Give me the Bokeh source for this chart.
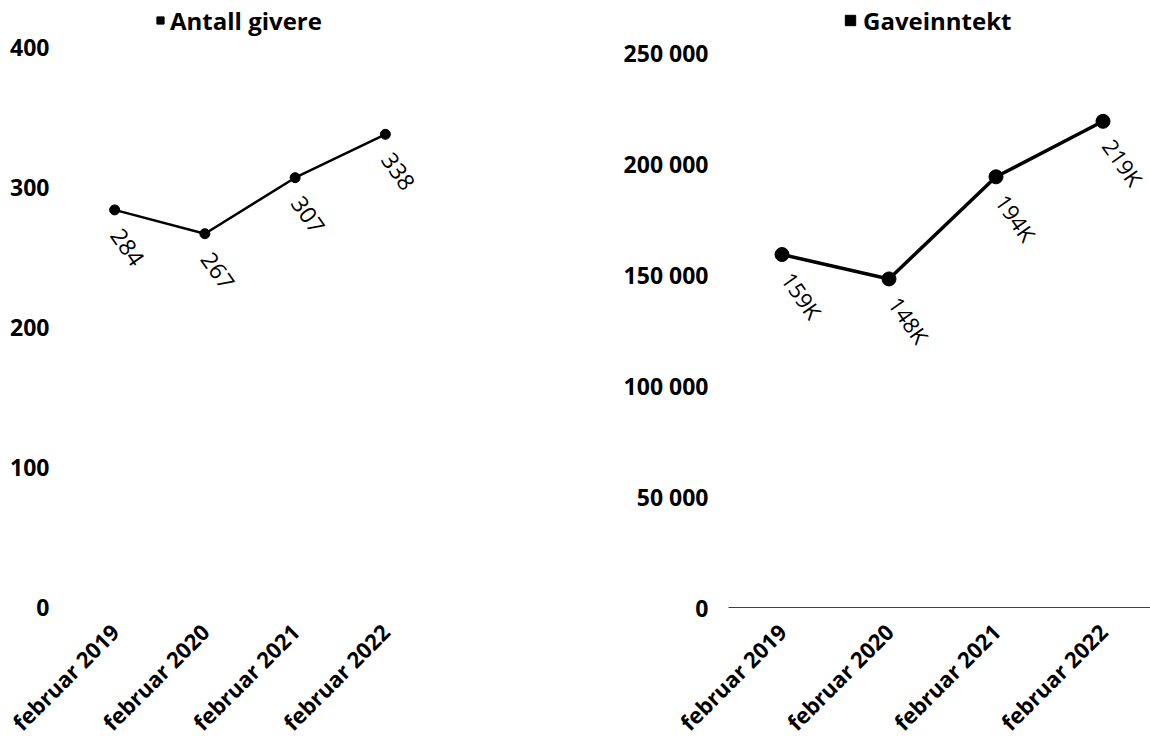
from bokeh.plotting import figure
from bokeh.layouts import row
from bokeh.models import Range1d, FixedTicker, Legend, LegendItem
from bokeh.core.properties import value
from bokeh.embed import file_html
from bokeh.resources import INLINE

# ---- data ----
categories = ["februar 2019", "februar 2020", "februar 2021", "februar 2022"]
givere = [284, 267, 307, 338]
gaveinntekt = [159000, 148000, 194000, 219000]
givere_ticks = [0, 100, 200, 300, 400]
inntekt_ticks = [0, 50000, 100000, 150000, 200000, 250000]
title_left = "Antall givere"
title_right = "Gaveinntekt"

FONT = "Open Sans"
xs = list(range(len(categories)))
FRAME_H = 607


def style(p, yticks, ylabels, x_line, y_standoff):
    p.xgrid.grid_line_color = None
    p.ygrid.grid_line_color = None
    p.outline_line_color = None
    p.xaxis.ticker = FixedTicker(ticks=xs)
    p.xaxis.major_label_overrides = {i: c for i, c in zip(xs, categories)}
    p.xaxis.major_label_orientation = 0.785398
    p.xaxis.major_label_standoff = 20
    p.xaxis.major_label_text_font_size = "22px"
    if x_line:
        p.xaxis.axis_line_color = "#404040"
        p.xaxis.axis_line_width = 1
    else:
        p.xaxis.axis_line_color = None
    p.yaxis.ticker = FixedTicker(ticks=yticks)
    p.yaxis.major_label_overrides = {t: l for t, l in zip(yticks, ylabels)}
    p.yaxis.axis_line_color = None
    p.yaxis.major_label_standoff = y_standoff
    p.yaxis.major_label_text_font_size = "23px"
    for ax in (p.xaxis, p.yaxis):
        ax.major_tick_line_color = None
        ax.minor_tick_line_color = None
        ax.major_tick_out = 0
        ax.major_tick_in = 0
        ax.minor_tick_out = 0
        ax.minor_tick_in = 0
        ax.major_label_text_font = FONT
        ax.major_label_text_font_style = "bold"
        ax.major_label_text_color = "black"


def add_legend(p, label, glyph_w, x_pos, standoff, hidden_y):
    r = p.scatter(x=[-10], y=[hidden_y], marker="square", color="black")
    leg = Legend(items=[LegendItem(label=label, renderers=[r])],
                 location=(x_pos, FRAME_H - 40), orientation="horizontal",
                 label_text_font=FONT, label_text_font_style="bold",
                 label_text_font_size="24px", label_text_color="black",
                 glyph_width=glyph_w, glyph_height=40, label_height=40,
                 label_standoff=standoff,
                 padding=0, margin=0, spacing=0,
                 border_line_color=None, background_fill_alpha=0)
    p.add_layout(leg)


# ---- left chart ----
p1 = figure(frame_width=361, frame_height=FRAME_H, min_border_left=69,
            min_border_right=138, min_border_top=0, min_border_bottom=0,
            x_range=Range1d(-0.5, 3.5), y_range=Range1d(0, FRAME_H / 1.4),
            toolbar_location=None, output_backend="svg")
style(p1, givere_ticks, [str(t) for t in givere_ticks], False, 20)
p1.line(xs, givere, line_color="black", line_width=2.5)
p1.scatter(xs, givere, size=10, color="black")
p1.text(xs, givere, text=[str(v) for v in givere], angle=-55, angle_units="deg",
        x_offset=13, y_offset=37, text_align="center", text_baseline="middle",
        text_font=value(FONT), text_font_size="23px", text_color="black")
add_legend(p1, title_left, 18, 82, 1, -1000)

# ---- right chart ----
p2 = figure(frame_width=422, frame_height=FRAME_H, min_border_left=160,
            min_border_right=0, min_border_top=0, min_border_bottom=0,
            x_range=Range1d(-0.5, -0.5 + 422 / 107),
            y_range=Range1d(0, FRAME_H * 250000 / 555),
            toolbar_location=None, output_backend="svg")
style(p2, inntekt_ticks, [f"{t:,}".replace(",", " ") for t in inntekt_ticks], True, 20)
p2.line(xs, gaveinntekt, line_color="black", line_width=3.5)
p2.scatter(xs, gaveinntekt, size=14, color="black")
p2.text(xs, gaveinntekt, text=[f"{round(v / 1000)}K" for v in gaveinntekt],
        angle=-55, angle_units="deg", x_offset=20, y_offset=41,
        text_align="center", text_baseline="middle",
        text_font=value(FONT), text_font_size="22px", text_color="black")
add_legend(p2, title_right, 26, 109, 0, -1e9)

layout = row(p1, p2)
open("out.html", "w").write(file_html(layout, INLINE))
